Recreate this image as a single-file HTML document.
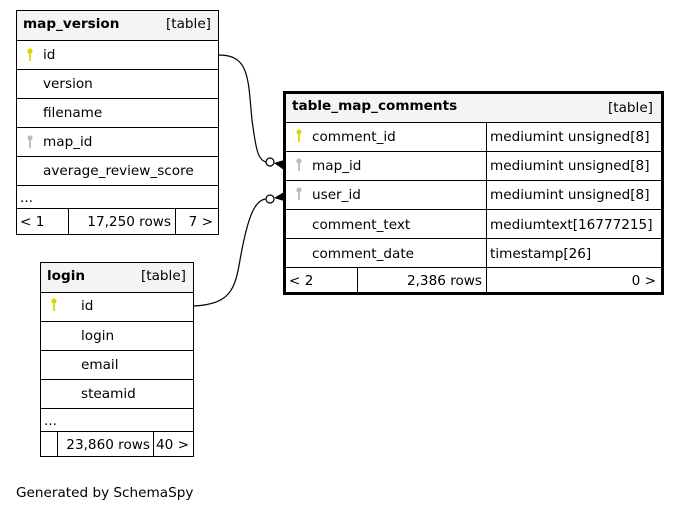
<!DOCTYPE html>
<html><head><meta charset="utf-8"><style>
html,body{margin:0;padding:0;background:#fff;}
svg{display:block;}
text{font-family:"DejaVu Sans","Liberation Sans",sans-serif;font-size:13.6px;fill:#000;}
.b{font-weight:bold;}
</style></head><body>
<svg width="680" height="512" viewBox="0 0 680 512" xmlns="http://www.w3.org/2000/svg">
<defs>
<g id="key"><circle cx="0" cy="-3" r="2.6"/><rect x="-0.9" y="-1" width="1.8" height="8"/></g>
</defs>
<!-- map_version -->
<rect x="16.5" y="10.5" width="202" height="30" fill="#f4f4f4"/>
<g fill="none" stroke="#000" stroke-width="1">
<rect x="16.5" y="10.5" width="202" height="224"/>
<line x1="16.5" y1="40.5" x2="218.5" y2="40.5"/>
<line x1="16.5" y1="69.5" x2="218.5" y2="69.5"/>
<line x1="16.5" y1="98.5" x2="218.5" y2="98.5"/>
<line x1="16.5" y1="127.5" x2="218.5" y2="127.5"/>
<line x1="16.5" y1="156.5" x2="218.5" y2="156.5"/>
<line x1="16.5" y1="185.5" x2="218.5" y2="185.5"/>
<line x1="16.5" y1="208.5" x2="218.5" y2="208.5"/>
<line x1="68.5" y1="208.5" x2="68.5" y2="234.5"/>
<line x1="175.5" y1="208.5" x2="175.5" y2="234.5"/>
</g>
<text x="23" y="28" class="b">map_version</text>
<text x="211" y="28" text-anchor="end">[table]</text>
<use href="#key" x="30" y="54" fill="#d8d800"/>
<text x="43" y="59">id</text>
<text x="43" y="88">version</text>
<text x="43" y="117">filename</text>
<use href="#key" x="30" y="141" fill="#bbb"/>
<text x="43" y="146">map_id</text>
<text x="43" y="175">average_review_score</text>
<text x="20" y="202">...</text>
<text x="20" y="226">&lt; 1</text>
<text x="171" y="226" text-anchor="end">17,250 rows</text>
<text x="213" y="226" text-anchor="end">7 &gt;</text>

<!-- table_map_comments -->
<rect x="285" y="93" width="377" height="29" fill="#f4f4f4"/>
<g fill="none" stroke="#000" stroke-width="1">
<line x1="285" y1="122.5" x2="662" y2="122.5"/>
<line x1="285" y1="151.5" x2="662" y2="151.5"/>
<line x1="285" y1="180.5" x2="662" y2="180.5"/>
<line x1="285" y1="209.5" x2="662" y2="209.5"/>
<line x1="285" y1="238.5" x2="662" y2="238.5"/>
<line x1="285" y1="267.5" x2="662" y2="267.5"/>
<line x1="486.5" y1="122.5" x2="486.5" y2="292"/>
<line x1="357.5" y1="267.5" x2="357.5" y2="292"/>
</g>
<rect x="284.5" y="92.5" width="378" height="201" fill="none" stroke="#000" stroke-width="3"/>
<text x="292" y="110" class="b">table_map_comments</text>
<text x="653" y="112" text-anchor="end">[table]</text>
<use href="#key" x="299" y="135" fill="#d8d800"/>
<text x="312" y="141">comment_id</text>
<use href="#key" x="299" y="164" fill="#bbb"/>
<text x="312" y="170">map_id</text>
<use href="#key" x="299" y="193" fill="#bbb"/>
<text x="312" y="199">user_id</text>
<text x="312" y="229">comment_text</text>
<text x="312" y="258">comment_date</text>
<text x="490" y="141">mediumint unsigned[8]</text>
<text x="490" y="170">mediumint unsigned[8]</text>
<text x="490" y="199">mediumint unsigned[8]</text>
<text x="490" y="229">mediumtext[16777215]</text>
<text x="490" y="258">timestamp[26]</text>
<text x="289" y="285">&lt; 2</text>
<text x="482" y="285" text-anchor="end">2,386 rows</text>
<text x="656" y="285" text-anchor="end">0 &gt;</text>

<!-- login -->
<rect x="40.5" y="262.5" width="153" height="30" fill="#f4f4f4"/>
<g fill="none" stroke="#000" stroke-width="1">
<rect x="40.5" y="262.5" width="153" height="194"/>
<line x1="40.5" y1="292.5" x2="193.5" y2="292.5"/>
<line x1="40.5" y1="321.5" x2="193.5" y2="321.5"/>
<line x1="40.5" y1="350.5" x2="193.5" y2="350.5"/>
<line x1="40.5" y1="379.5" x2="193.5" y2="379.5"/>
<line x1="40.5" y1="408.5" x2="193.5" y2="408.5"/>
<line x1="40.5" y1="431.5" x2="193.5" y2="431.5"/>
<line x1="57.5" y1="431.5" x2="57.5" y2="456.5"/>
<line x1="153.5" y1="431.5" x2="153.5" y2="456.5"/>
</g>
<text x="47" y="280" class="b">login</text>
<text x="186" y="280" text-anchor="end">[table]</text>
<use href="#key" x="54" y="304" fill="#d8d800"/>
<text x="81" y="310">id</text>
<text x="81" y="340">login</text>
<text x="81" y="369">email</text>
<text x="81" y="398">steamid</text>
<text x="44" y="425">...</text>
<text x="150" y="449" text-anchor="end">23,860 rows</text>
<text x="189" y="449" text-anchor="end">40 &gt;</text>

<!-- connectors -->
<g fill="none" stroke="#000" stroke-width="1.2">
<path d="M219,55 C250,55 248,80 252,120 C256,150 258,160 266,162"/>
<path d="M194,306 C230,304 235,290 240,260 C248,215 255,200 266,199"/>
</g>
<circle cx="270" cy="162" r="4" fill="#fff" stroke="#000" stroke-width="1.2"/>
<circle cx="270" cy="199" r="4" fill="#fff" stroke="#000" stroke-width="1.2"/>
<path d="M274,163 L284,160 L284,170 Z" fill="#000"/>
<path d="M274,198 L284,192 L284,201 Z" fill="#000"/>

<text x="16" y="497">Generated by SchemaSpy</text>
</svg>
</body></html>
